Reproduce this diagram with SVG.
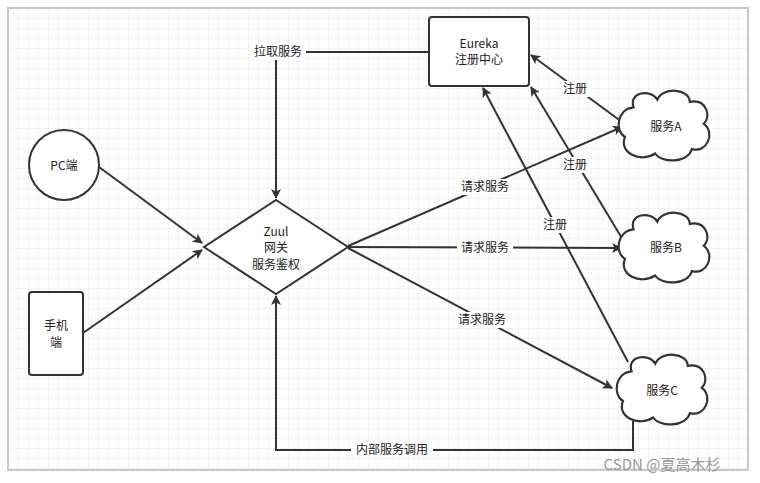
<svg xmlns="http://www.w3.org/2000/svg" width="760" height="483" viewBox="0 0 760 483">
<defs>
<pattern id="g" width="10" height="10" patternUnits="userSpaceOnUse" x="9" y="9"><path d="M10 0V10H0" fill="none" stroke="#e6e6e6" stroke-width="1"/></pattern>
<marker id="a" markerWidth="10" markerHeight="10" refX="9" refY="5" orient="auto" markerUnits="userSpaceOnUse"><path d="M0,0L10,5L0,10L2.5,5z" fill="#333"/></marker>
<path id="cloud" d="M-30,-17 C-35,-31 -14,-34 -8,-24 C-3,-36 22,-34 22,-22 C38,-25 42,-8 35,-2 C46,6 38,25 24,21 C20,34 -4,34 -10,25 C-24,34 -44,24 -38,10 C-48,4 -45,-16 -30,-17Z"/>
<style>
.s{fill:#fff;stroke:#333;stroke-width:2}
.t{font-family:"Noto Sans CJK SC","Liberation Sans",sans-serif;font-size:12px;fill:#222;text-anchor:middle}
.c path,.c polyline{fill:none;stroke:#333;stroke-width:2;marker-end:url(#a)}
.l{fill:#fff}
</style>
</defs>
<rect width="760" height="483" fill="#fff"/>
<rect x="8" y="8" width="740" height="462" fill="url(#g)" stroke="#c8c8c8" stroke-width="2"/>
<g class="c">
<polyline points="429,52 276,52 276,198"/>
<path d="M99,167L202,243"/>
<path d="M83,333L202,250"/>
<path d="M348,246L622,127"/>
<path d="M348,247L621,248"/>
<path d="M348,248L612,388"/>
<polyline points="633,421 633,450 276,450 276,296"/>
<path d="M622,122L531,55"/>
<path d="M623,240L531,87"/>
<path d="M628,362L483,88"/>
</g>
<g id="labels">
<rect class="l" x="250" y="44" width="56" height="16"/><text class="t" x="278" y="56">拉取服务</text>
<rect class="l" x="457" y="179" width="56" height="16"/><text class="t" x="485" y="191">请求服务</text>
<rect class="l" x="457" y="240" width="56" height="16"/><text class="t" x="485" y="252">请求服务</text>
<rect class="l" x="454" y="312" width="56" height="16"/><text class="t" x="482" y="324">请求服务</text>
<rect class="l" x="351" y="442" width="82" height="16"/><text class="t" x="392" y="454">内部服务调用</text>
<rect class="l" x="561" y="81" width="28" height="16"/><text class="t" x="575" y="93">注册</text>
<rect class="l" x="561" y="157" width="28" height="16"/><text class="t" x="575" y="169">注册</text>
<rect class="l" x="541" y="217" width="28" height="16"/><text class="t" x="555" y="229">注册</text>
</g>
<g id="eureka"><rect class="s" x="429" y="17" width="100" height="69" rx="3"/><text class="t" x="479" y="48">Eureka</text><text class="t" x="479" y="64">注册中心</text></g>
<g id="pc"><circle class="s" cx="64" cy="165" r="35"/><text class="t" x="64" y="170">PC端</text></g>
<g id="mobile"><rect class="s" x="29" y="292" width="54" height="83" rx="3"/><text class="t" x="56" y="330">手机</text><text class="t" x="56" y="347">端</text></g>
<g id="zuul"><path class="s" d="M276,200L348,247L276,294L204,247Z"/><text class="t" x="276" y="236">Zuul</text><text class="t" x="276" y="252">网关</text><text class="t" x="276" y="269">服务鉴权</text></g>
<g id="svcA"><use href="#cloud" class="s" transform="translate(666,126) scale(1.08,1.1)" stroke-width="1.85"/><text class="t" x="666" y="131">服务A</text></g>
<g id="svcB"><use href="#cloud" class="s" transform="translate(666,248) scale(1.08,1.1)" stroke-width="1.85"/><text class="t" x="666" y="252">服务B</text></g>
<g id="svcC"><use href="#cloud" class="s" transform="translate(664,390) scale(1.08,1.1)" stroke-width="1.85"/><text class="t" x="662" y="395">服务C</text></g>
<text x="662" y="470" font-family="'Noto Sans CJK SC',sans-serif" font-size="15" fill="#999" text-anchor="middle">CSDN @夏高木杉</text>
</svg>
